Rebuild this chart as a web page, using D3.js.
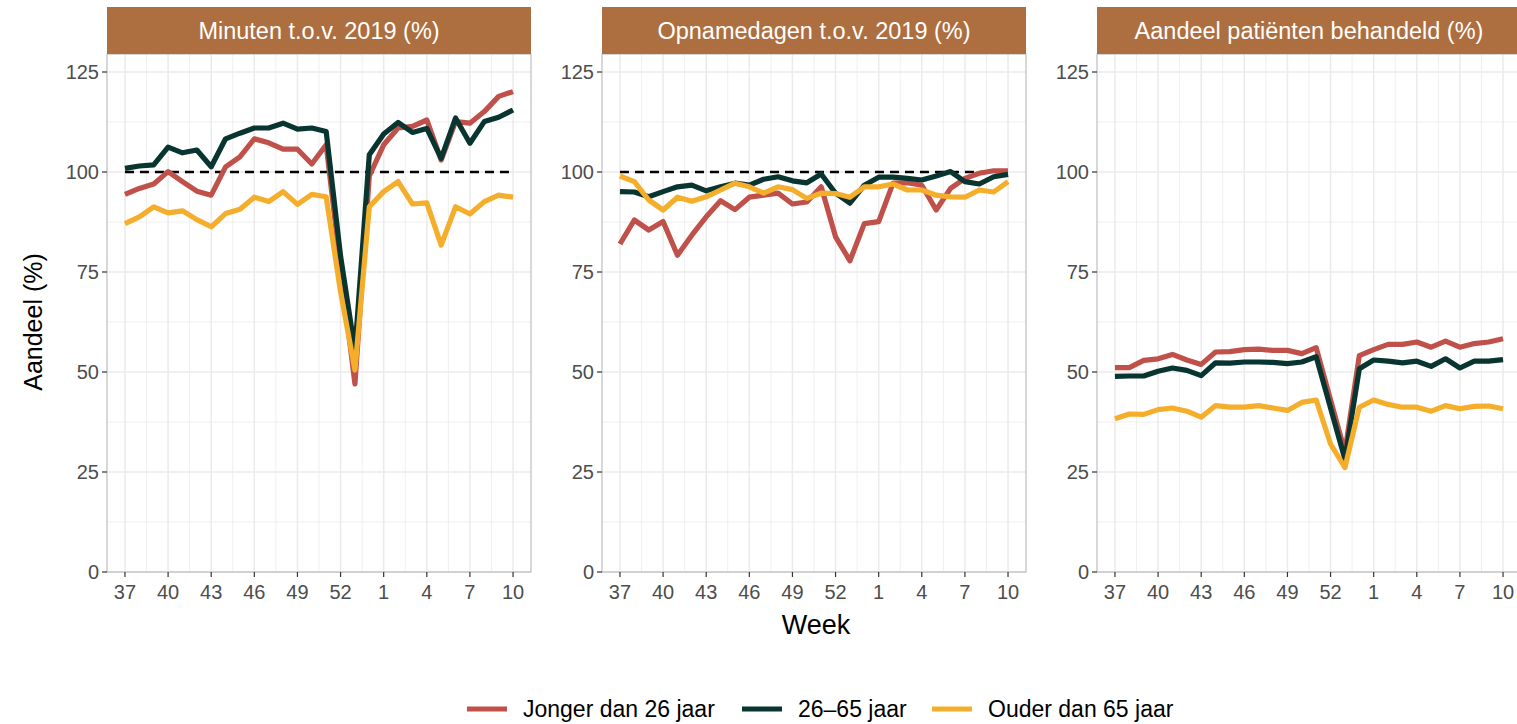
<!DOCTYPE html>
<html>
<head>
<meta charset="utf-8">
<script src="https://cdn.jsdelivr.net/npm/d3@7"></script>
<style>
  body { margin: 0; background: #fff; }
  svg { display: block; font-family: "Liberation Sans", Arial, sans-serif; }
</style>
</head>
<body>
<svg id="chart"></svg>
<script>
const width = 1517;
const height = 724;

// week labels shown on the x axis (every third observation)
const weekTicks = [37, 40, 43, 46, 49, 52, 1, 4, 7, 10];
const groups = ['Jonger dan 26 jaar', '26–65 jaar', 'Ouder dan 65 jaar'];
const colors = ['#C0504A', '#083530', '#F5AE2C'];
const facets = ['Minuten t.o.v. 2019 (%)', 'Opnamedagen t.o.v. 2019 (%)', 'Aandeel patiënten behandeld (%)'];
const refLine = [100, 100, null];
const yTicks = [0, 25, 50, 75, 100, 125];

// 28 weekly observations, week 37 (2020) to week 10 (2021)
const minutenJong = [94.4, 95.9, 97.0, 100.1, 97.6, 95.2, 94.2, 101.3, 103.8, 108.3, 107.3, 105.7, 105.7, 102.0, 106.8, 76, 47, 99, 106.8, 111.0, 111.4, 113.0, 103.0, 112.6, 112.2, 115.1, 118.9, 120.1];
const minutenMidden = [100.9, 101.5, 101.8, 106.2, 104.8, 105.5, 101.3, 108.3, 109.7, 111.0, 111.0, 112.2, 110.7, 111.0, 110.1, 79, 55.4, 104.3, 109.5, 112.4, 109.9, 110.9, 103.4, 113.5, 107.2, 112.6, 113.7, 115.5];
const minutenOud = [87.1, 88.8, 91.3, 89.8, 90.3, 88.1, 86.3, 89.6, 90.7, 93.7, 92.6, 95.1, 91.9, 94.4, 93.8, 70, 50.5, 91.3, 95.1, 97.6, 92.0, 92.3, 81.7, 91.3, 89.5, 92.6, 94.2, 93.7];

const opnameJong = [82, 88, 85.5, 87.6, 79.2, 84.2, 88.8, 92.8, 90.6, 93.7, 94.2, 94.7, 92, 92.5, 96.3, 83.8, 77.8, 87.1, 87.6, 97.2, 97.3, 96.7, 90.5, 95.9, 98.4, 99.7, 100.3, 100.3];
const opnameMidden = [95.1, 95, 93.8, 95.1, 96.3, 96.7, 95.3, 96.3, 97.2, 96.7, 98.2, 98.8, 97.8, 97.3, 99.5, 94.7, 92.2, 96.7, 98.7, 98.7, 98.4, 98, 99, 100.1, 97.6, 97, 98.8, 99.4];
const opnameOud = [99, 97.6, 93, 90.5, 93.7, 92.7, 93.8, 95.5, 97.2, 96.3, 94.7, 96.3, 95.6, 93.4, 94.7, 94.6, 93.7, 96.3, 96.3, 97, 95.5, 95.5, 94.2, 93.8, 93.7, 95.5, 95, 97.6];

const aandeelJong = [51.1, 51.1, 52.9, 53.3, 54.4, 53.0, 51.9, 55.0, 55.1, 55.6, 55.7, 55.4, 55.4, 54.6, 56.1, 43, 30, 54.1, 55.6, 56.9, 56.9, 57.5, 56.2, 57.7, 56.2, 57.1, 57.5, 58.3];
const aandeelMidden = [48.9, 49.0, 49.0, 50.2, 51.0, 50.4, 49.1, 52.3, 52.2, 52.5, 52.5, 52.4, 52.1, 52.5, 53.8, 41, 28.2, 50.8, 53.0, 52.7, 52.3, 52.7, 51.4, 53.3, 51.0, 52.7, 52.7, 53.1];
const aandeelOud = [38.3, 39.5, 39.4, 40.6, 41.0, 40.2, 38.7, 41.6, 41.2, 41.2, 41.6, 41.0, 40.4, 42.4, 43.0, 32, 26.1, 41.2, 43.0, 41.9, 41.2, 41.2, 40.2, 41.6, 40.8, 41.4, 41.5, 40.8];

const panelData = [
  [minutenJong, minutenMidden, minutenOud],
  [opnameJong, opnameMidden, opnameOud],
  [aandeelJong, aandeelMidden, aandeelOud]
];

const svg = d3.select('#chart')
  .attr('width', width)
  .attr('height', height);

const panelLeft = [107, 602, 1097];
const panelW = 424;
const panelTop = 54;
const panelBottom = 572;
const stripTop = 7;

const nObs = minutenJong.length;
const x = d3.scaleLinear().domain([-1.25, nObs - 1 + 1.25]).range([0, panelW]);
const y = d3.scaleLinear().domain([0, 129.5]).range([panelBottom, panelTop]);

const majorX = d3.range(0, nObs, 3);
const minorX = d3.range(1.5, nObs - 1, 3);
const minorY = [12.5, 37.5, 62.5, 87.5, 112.5];

const line = d3.line()
  .x((d, i) => x(i))
  .y(d => y(d));

facets.forEach((title, p) => {
  const g = svg.append('g').attr('transform', `translate(${panelLeft[p]},0)`);

  // grid
  g.append('g').selectAll('line')
    .data(minorX)
    .enter().append('line')
    .attr('x1', d => x(d)).attr('x2', d => x(d))
    .attr('y1', panelTop).attr('y2', panelBottom)
    .attr('stroke', '#EBEBEB').attr('stroke-width', 0.8);
  g.append('g').selectAll('line')
    .data(minorY)
    .enter().append('line')
    .attr('x1', 0).attr('x2', panelW)
    .attr('y1', d => y(d)).attr('y2', d => y(d))
    .attr('stroke', '#EBEBEB').attr('stroke-width', 0.8);
  g.append('g').selectAll('line')
    .data(majorX)
    .enter().append('line')
    .attr('x1', d => x(d)).attr('x2', d => x(d))
    .attr('y1', panelTop).attr('y2', panelBottom)
    .attr('stroke', '#EBEBEB').attr('stroke-width', 1.5);
  g.append('g').selectAll('line')
    .data(yTicks)
    .enter().append('line')
    .attr('x1', 0).attr('x2', panelW)
    .attr('y1', d => y(d)).attr('y2', d => y(d))
    .attr('stroke', '#EBEBEB').attr('stroke-width', 1.5);

  // reference line at 100
  if (refLine[p] !== null) {
    g.append('line')
      .attr('x1', x(0)).attr('x2', x(nObs - 1))
      .attr('y1', y(refLine[p])).attr('y2', y(refLine[p]))
      .attr('stroke', '#000').attr('stroke-width', 2.4)
      .attr('stroke-dasharray', '9,6');
  }

  // series
  g.append('g').selectAll('path')
    .data(panelData[p])
    .enter().append('path')
    .attr('d', d => line(d))
    .attr('fill', 'none')
    .attr('stroke', (_, i) => colors[i])
    .attr('stroke-width', 5.2)
    .attr('stroke-linejoin', 'round');

  // border
  g.append('rect')
    .attr('x', 0).attr('y', panelTop)
    .attr('width', panelW).attr('height', panelBottom - panelTop)
    .attr('fill', 'none').attr('stroke', '#B8B8B8').attr('stroke-width', 1.1);

  // strip
  g.append('rect')
    .attr('x', 0).attr('y', stripTop)
    .attr('width', panelW).attr('height', panelTop - stripTop)
    .attr('fill', '#AD6F3F');
  g.append('text')
    .attr('x', panelW / 2).attr('y', (stripTop + panelTop) / 2)
    .attr('dy', '0.35em')
    .attr('text-anchor', 'middle')
    .attr('fill', '#fff')
    .attr('font-size', 23.5)
    .text(title);

  // y axis
  const ya = g.append('g');
  ya.selectAll('line')
    .data(yTicks)
    .enter().append('line')
    .attr('x1', -5).attr('x2', 0)
    .attr('y1', d => y(d)).attr('y2', d => y(d))
    .attr('stroke', '#333').attr('stroke-width', 1.2);
  ya.selectAll('text')
    .data(yTicks)
    .enter().append('text')
    .attr('x', -8).attr('y', d => y(d))
    .attr('dy', '0.35em')
    .attr('text-anchor', 'end')
    .attr('fill', '#4D4D4D')
    .attr('font-size', 20)
    .text(d => d);

  // x axis
  const xa = g.append('g');
  xa.selectAll('line')
    .data(majorX)
    .enter().append('line')
    .attr('x1', d => x(d)).attr('x2', d => x(d))
    .attr('y1', panelBottom).attr('y2', panelBottom + 5)
    .attr('stroke', '#333').attr('stroke-width', 1.2);
  xa.selectAll('text')
    .data(majorX)
    .enter().append('text')
    .attr('x', d => x(d)).attr('y', panelBottom + 20)
    .attr('dy', '0.35em')
    .attr('text-anchor', 'middle')
    .attr('fill', '#4D4D4D')
    .attr('font-size', 20)
    .text((d, i) => weekTicks[i]);
});

// axis titles
svg.append('text')
  .attr('transform', `translate(33,322) rotate(-90)`)
  .attr('dy', '0.35em')
  .attr('text-anchor', 'middle')
  .attr('font-size', 25)
  .text('Aandeel (%)');

svg.append('text')
  .attr('x', 816).attr('y', 625)
  .attr('dy', '0.35em')
  .attr('text-anchor', 'middle')
  .attr('font-size', 27)
  .text('Week');

// legend
const legendX = [467, 742, 932];
const legend = svg.append('g').selectAll('g')
  .data(groups)
  .enter().append('g')
  .attr('transform', (_, i) => `translate(${legendX[i]},709)`);
legend.append('line')
  .attr('x1', 0).attr('x2', 40)
  .attr('stroke', (_, i) => colors[i])
  .attr('stroke-width', 5);
legend.append('text')
  .attr('x', 56).attr('dy', '0.35em')
  .attr('font-size', 23)
  .text(d => d);
</script>
</body>
</html>
